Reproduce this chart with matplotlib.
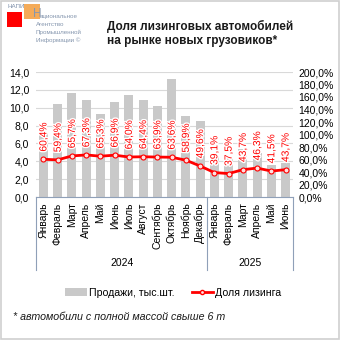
import matplotlib
matplotlib.use('Agg')
import matplotlib.pyplot as plt
import matplotlib.patheffects as pe
from matplotlib.patches import Rectangle
from matplotlib.lines import Line2D
import matplotlib.transforms as mtransforms

plt.rcParams['font.family'] = ['Liberation Sans', 'DejaVu Sans']

months = ['Январь', 'Февраль', 'Март', 'Апрель', 'Май', 'Июнь', 'Июль', 'Август',
          'Сентябрь', 'Октябрь', 'Ноябрь', 'Декабрь',
          'Январь', 'Февраль', 'Март', 'Апрель', 'Май', 'Июнь']
years = ['2024', '2025']
year_sizes = [12, 6]
sales = [7.2, 10.4, 11.7, 10.85, 9.3, 10.65, 11.45, 10.85, 10.2, 13.2, 9.05, 8.55,
         4.6, 4.4, 5.4, 4.9, 3.6, 3.8]
lease_share = [60.4, 59.4, 65.7, 67.3, 65.3, 66.9, 64.0, 64.4, 63.9, 63.6, 58.9, 49.6,
               39.1, 37.5, 43.7, 46.3, 41.5, 43.7]

left_ticks = [0, 2, 4, 6, 8, 10, 12, 14]
right_ticks = [0, 20, 40, 60, 80, 100, 120, 140, 160, 180, 200]

bar_col = '#c9c9c9'
red = '#ff0000'
axis_col = '#8fa0b8'

fig = plt.figure(figsize=(3.4, 3.4), dpi=100)

# border around picture
fig.add_artist(Rectangle((0.002, 0.002), 0.996, 0.996, transform=fig.transFigure,
                         fill=False, edgecolor='#cfcfcf', linewidth=1.2))

# logo
fig.text(7 / 340, 1 - 6.5 / 340, 'НАПИ', fontsize=4.5, color='#7f90aa', va='center', ha='left')
fig.add_artist(Rectangle((7 / 340, 1 - 27 / 340), 15 / 340, 15 / 340, transform=fig.transFigure,
                         facecolor='#ff0000', edgecolor='none'))
fig.add_artist(Rectangle((24 / 340, 1 - 19 / 340), 16 / 340, 15 / 340, transform=fig.transFigure,
                         facecolor='#f39c3c', edgecolor='none', alpha=0.85))
fig.text(32.5 / 340, 1 - 14 / 340, 'Н', fontsize=8.5, color='#8596ae', va='center', ha='left')
logo_lines = ['ациональное', 'Агентство', 'Промышленной', 'Информации ©']
logo_x = [40, 36, 36, 36]
for i, t in enumerate(logo_lines):
    fig.text(logo_x[i] / 340, 1 - (16.5 + 7.8 * i) / 340, t, fontsize=4.5, color='#8596ae',
             va='center', ha='left')

# title
fig.text(107 / 340, 1 - 33.5 / 340, 'Доля лизинговых автомобилей\nна рынке новых грузовиков*',
         fontsize=8.5, fontweight='bold', color='#1a1a1a', va='center', ha='left',
         linespacing=1.15)

ax = fig.add_axes([36.3 / 340, 1 - 197 / 340, 256.4 / 340, 125 / 340])
x = list(range(len(months)))
ax.bar(x, sales, width=0.63, color=bar_col, zorder=2)
ax.set_xlim(-0.5, len(months) - 0.5)
ax.set_ylim(0, 14)
ax.set_yticks(left_ticks)
ax.set_yticklabels([f'{v:.1f}'.replace('.', ',') for v in left_ticks], fontsize=7.5)
ax.grid(axis='y', color='#d9d9d9', linewidth=0.8, zorder=0)
ax.tick_params(axis='y', length=0, pad=5)
for s in ['left', 'right', 'top']:
    ax.spines[s].set_visible(False)
ax.spines['bottom'].set_color(axis_col)
ax.spines['bottom'].set_linewidth(0.8)
ax.set_xticks(x)
ax.set_xticklabels(months, rotation=90, fontsize=7.5, va='top', ha='center')
ax.tick_params(axis='x', length=0, pad=4)

# year groups
trans = mtransforms.blended_transform_factory(ax.transData, ax.transAxes)
start = -0.5
bounds = [start]
for yr, n in zip(years, year_sizes):
    ax.text(start + n / 2, -0.53, yr, transform=trans, fontsize=7.5, ha='center', va='center')
    start += n
    bounds.append(start)
for b in bounds:
    ax.plot([b, b], [0, -0.585], transform=trans, color=axis_col, linewidth=0.8, clip_on=False)

ax2 = ax.twinx()
ax2.set_ylim(0, 200)
ax2.set_yticks(right_ticks)
ax2.set_yticklabels([f'{v:.1f}%'.replace('.', ',') for v in right_ticks], fontsize=7.5)
ax2.tick_params(axis='y', length=0, pad=4)
for s in ax2.spines.values():
    s.set_visible(False)
ax2.plot(x, lease_share, color=red, linewidth=2.0, marker='o', markersize=3.6,
         markerfacecolor='#ffe0e0', markeredgecolor=red, markeredgewidth=0.8, zorder=3)
for xi, v in zip(x, lease_share):
    ax2.annotate(f'{v:.1f}%'.replace('.', ','), (xi, v), xytext=(0, 5.5),
                 textcoords='offset points', rotation=90, ha='center', va='bottom',
                 fontsize=7.4, color=red,
                 path_effects=[pe.withStroke(linewidth=2, foreground='white')])

# legend
handles = [Rectangle((0, 0), 1, 1, facecolor=bar_col, edgecolor='none'),
           Line2D([], [], color=red, linewidth=2.0, marker='o', markersize=3,
                  markerfacecolor='#ffe0e0', markeredgecolor=red)]
fig.legend(handles, ['Продажи, тыс.шт.', 'Доля лизинга'], loc='center',
           bbox_to_anchor=(0.51, 1 - 292.5 / 340), ncol=2, frameon=False, fontsize=7.6,
           handlelength=2.0, handletextpad=0.25, columnspacing=1.6)

fig.text(13 / 340, 1 - 316.5 / 340, '* автомобили с полной массой свыше 6 т',
         fontsize=7.7, style='italic', ha='left', va='center', color='#1a1a1a')

fig.savefig('out.png', dpi=100)
